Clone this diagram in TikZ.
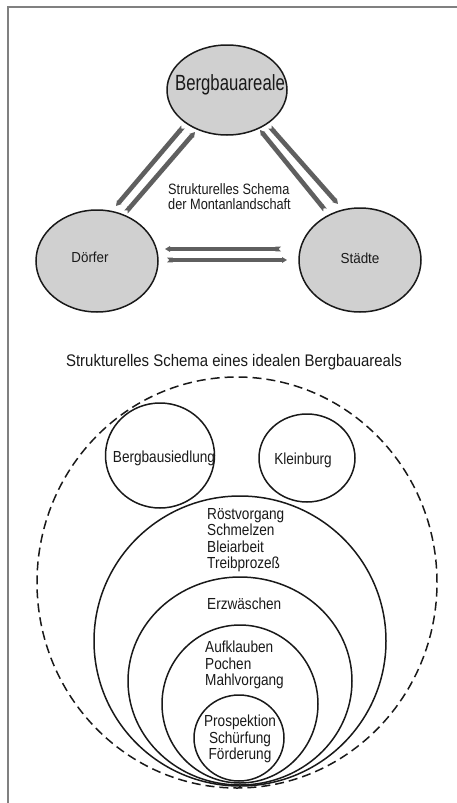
\documentclass[tikz,border=0pt]{standalone}
\usepackage{fontspec}
\setmainfont{Liberation Sans}
\usetikzlibrary{shapes.geometric,arrows.meta,calc}
\definecolor{fillg}{RGB}{208,208,208}
\definecolor{bandg}{RGB}{95,95,95}
\definecolor{txtc}{RGB}{25,25,25}
\definecolor{framec}{RGB}{128,128,128}
\newcommand\nx[2]{\scalebox{#1}[1]{#2}}
\begin{document}
\begin{tikzpicture}[x=1pt,y=-1pt,
  ell/.style={ellipse, draw=black!90, line width=1.5pt, inner sep=0pt},
  gell/.style={ell, fill=fillg},
  band/.style={line width=4.6pt, draw=bandg, {Triangle Cap[reversed]}-{Triangle[length=5pt,width=5.6pt]}},
  lbl/.style={inner sep=0pt, text=txtc},
  body/.style={lbl, font=\fontsize{16}{16.5}\selectfont},
]
\useasboundingbox (0,0) rectangle (457,803);
\draw[framec, line width=1.5pt] (8,803) -- (8,7) -- (457,7);

% --- top diagram ---
\node[gell, minimum width=120, minimum height=90] (berg) at (227,90) {};
\node[gell, minimum width=122, minimum height=102] (dorf) at (97,261) {};
\node[gell, minimum width=122, minimum height=104] (stadt) at (360,260) {};
\node[lbl, anchor=base, font=\fontsize{22}{26}\selectfont] (bergt) at (230,90) {\nx{0.76}{Bergbauareale}};
\node[lbl, anchor=base, font=\fontsize{14.5}{17}\selectfont] (dorft) at (90,262) {\nx{0.92}{Dörfer}};
\node[lbl, anchor=base, font=\fontsize{14.5}{17}\selectfont] (stadtt) at (360,263) {\nx{0.93}{Städte}};
\node[lbl, anchor=north west, font=\fontsize{15}{15.5}\selectfont] (topt) at (168,183)
  {\nx{0.85}{\begin{tabular}{@{}l@{}}Strukturelles Schema\\der Montanlandschaft\end{tabular}}};

\draw[band] ($(berg)+(-44,37)$) -- ($(dorf)+(19,-55)$);
\draw[band] ($(dorf)+(29,-49)$) -- ($(berg)+(-32,42)$);
\draw[band] ($(stadt)+(-35,-50)$) -- ($(berg)+(33,40)$);
\draw[band] ($(berg)+(43,37)$) -- ($(stadt)+(-22,-56)$);
\draw[band] ($(stadt)+(-79,-11)$) -- ($(dorf)+(68,-12)$);
\draw[band] ($(dorf)+(70,-1)$) -- ($(stadt)+(-73,0)$);

% --- bottom diagram ---
\node[lbl, anchor=base, font=\fontsize{16.8}{19}\selectfont] (title) at (234,366)
  {\nx{0.89}{Strukturelles Schema eines idealen Bergbauareals}};
\node[ell, dash pattern=on 9pt off 5pt, minimum width=400, minimum height=411] (area) at (237,582.5) {};
\node[ell, minimum width=109, minimum height=105] (sied) at (160,455.5) {};
\node[ell, minimum width=96, minimum height=88] (burg) at (307,458) {};
\node[ell, minimum width=292, minimum height=290] (roest) at (240,641) {};
\node[ell, minimum width=224, minimum height=208] (erz) at (240,681) {};
\node[ell, minimum width=156, minimum height=158] (auf) at (240,704) {};
\node[ell, minimum width=90, minimum height=86] (pros) at (239,738) {};

\node[body, anchor=base] (siedt) at (164,462) {\nx{0.85}{Bergbausiedlung}};
\node[body, anchor=base] (burgt) at (303,464) {\nx{0.85}{Kleinburg}};
\node[body, anchor=north west] (roestt) at (207,507.5)
  {\nx{0.85}{\begin{tabular}{@{}l@{}}Röstvorgang\\Schmelzen\\Bleiarbeit\\Treibprozeß\end{tabular}}};
\node[body, anchor=base west] (erzt) at (207,609) {\nx{0.85}{Erzwäschen}};
\node[body, anchor=north west] (auft) at (205,641)
  {\nx{0.85}{\begin{tabular}{@{}l@{}}Aufklauben\\Pochen\\Mahlvorgang\end{tabular}}};
\node[body, anchor=north] (prost) at (240,715)
  {\nx{0.85}{\begin{tabular}{@{}c@{}}Prospektion\\Schürfung\\Förderung\end{tabular}}};
\end{tikzpicture}
\end{document}
